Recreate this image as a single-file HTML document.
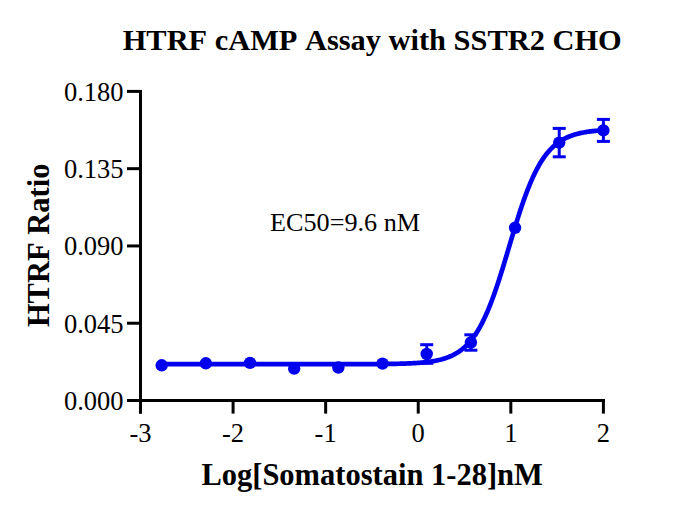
<!DOCTYPE html>
<html><head><meta charset="utf-8"><style>
html,body{margin:0;padding:0;background:#fff;width:678px;height:513px;overflow:hidden}
svg{display:block}
text{font-family:"Liberation Serif",serif;fill:#000;font-kerning:none}
</style></head><body>
<svg width="678" height="513" viewBox="0 0 678 513">
<rect width="678" height="513" fill="#fff"/>
<text x="372.2" y="49.9" text-anchor="middle" font-weight="bold" font-size="30.4">HTRF cAMP Assay with SSTR2 CHO</text>
<g stroke="#000" stroke-width="3" fill="none" stroke-linecap="butt">
<line x1="140.5" y1="90" x2="140.5" y2="413.6"/>
<line x1="127" y1="400.5" x2="605" y2="400.5"/>
<line x1="127" y1="400.50" x2="142" y2="400.50"/>
<line x1="127" y1="323.23" x2="142" y2="323.23"/>
<line x1="127" y1="245.95" x2="142" y2="245.95"/>
<line x1="127" y1="168.67" x2="142" y2="168.67"/>
<line x1="127" y1="91.40" x2="142" y2="91.40"/>
<line x1="140.50" y1="399" x2="140.50" y2="413.6"/>
<line x1="233.08" y1="399" x2="233.08" y2="413.6"/>
<line x1="325.66" y1="399" x2="325.66" y2="413.6"/>
<line x1="418.24" y1="399" x2="418.24" y2="413.6"/>
<line x1="510.82" y1="399" x2="510.82" y2="413.6"/>
<line x1="603.40" y1="399" x2="603.40" y2="413.6"/>
</g>
<g font-size="26.5">
<text x="123.5" y="409.80" text-anchor="end">0.000</text>
<text x="123.5" y="332.53" text-anchor="end">0.045</text>
<text x="123.5" y="255.25" text-anchor="end">0.090</text>
<text x="123.5" y="177.97" text-anchor="end">0.135</text>
<text x="123.5" y="100.70" text-anchor="end">0.180</text>
<text x="140.50" y="441.9" text-anchor="middle">-3</text>
<text x="233.08" y="441.9" text-anchor="middle">-2</text>
<text x="325.66" y="441.9" text-anchor="middle">-1</text>
<text x="418.24" y="441.9" text-anchor="middle">0</text>
<text x="510.82" y="441.9" text-anchor="middle">1</text>
<text x="603.40" y="441.9" text-anchor="middle">2</text>
<text x="270" y="230.9" font-size="26.2">EC50=9.6 nM</text>
</g>
<text x="372.1" y="484.8" text-anchor="middle" font-weight="bold" font-size="30.5">Log[Somatostain 1-28]nM</text>
<text transform="translate(49.3,245.35) rotate(-90)" x="0" y="0" text-anchor="middle" font-weight="bold" font-size="30.5">HTRF Ratio</text>
<polyline points="161.68,364.18 162.79,364.18 163.89,364.18 164.99,364.18 166.10,364.18 167.20,364.18 168.31,364.18 169.41,364.18 170.52,364.18 171.62,364.18 172.72,364.18 173.83,364.18 174.93,364.18 176.04,364.18 177.14,364.18 178.25,364.18 179.35,364.18 180.45,364.18 181.56,364.18 182.66,364.18 183.77,364.18 184.87,364.18 185.98,364.18 187.08,364.18 188.18,364.18 189.29,364.18 190.39,364.18 191.50,364.18 192.60,364.18 193.71,364.18 194.81,364.18 195.91,364.18 197.02,364.18 198.12,364.18 199.23,364.18 200.33,364.18 201.44,364.18 202.54,364.18 203.64,364.18 204.75,364.18 205.85,364.18 206.96,364.18 208.06,364.18 209.17,364.18 210.27,364.18 211.37,364.18 212.48,364.18 213.58,364.18 214.69,364.18 215.79,364.18 216.90,364.18 218.00,364.18 219.10,364.18 220.21,364.18 221.31,364.18 222.42,364.18 223.52,364.18 224.63,364.18 225.73,364.18 226.83,364.18 227.94,364.18 229.04,364.18 230.15,364.18 231.25,364.18 232.36,364.18 233.46,364.18 234.56,364.18 235.67,364.18 236.77,364.18 237.88,364.18 238.98,364.18 240.09,364.18 241.19,364.18 242.29,364.18 243.40,364.18 244.50,364.18 245.61,364.18 246.71,364.18 247.82,364.18 248.92,364.18 250.02,364.18 251.13,364.18 252.23,364.18 253.34,364.18 254.44,364.18 255.55,364.18 256.65,364.18 257.75,364.18 258.86,364.18 259.96,364.18 261.07,364.18 262.17,364.18 263.28,364.18 264.38,364.18 265.49,364.18 266.59,364.18 267.69,364.18 268.80,364.18 269.90,364.18 271.01,364.18 272.11,364.18 273.22,364.18 274.32,364.18 275.42,364.18 276.53,364.18 277.63,364.18 278.74,364.18 279.84,364.18 280.95,364.18 282.05,364.18 283.15,364.18 284.26,364.18 285.36,364.18 286.47,364.18 287.57,364.18 288.68,364.18 289.78,364.18 290.88,364.18 291.99,364.18 293.09,364.18 294.20,364.18 295.30,364.18 296.41,364.18 297.51,364.18 298.61,364.18 299.72,364.18 300.82,364.18 301.93,364.18 303.03,364.18 304.14,364.18 305.24,364.18 306.34,364.18 307.45,364.18 308.55,364.18 309.66,364.18 310.76,364.18 311.87,364.18 312.97,364.18 314.07,364.18 315.18,364.18 316.28,364.18 317.39,364.18 318.49,364.18 319.60,364.18 320.70,364.18 321.80,364.18 322.91,364.18 324.01,364.17 325.12,364.17 326.22,364.17 327.33,364.17 328.43,364.17 329.53,364.17 330.64,364.17 331.74,364.17 332.85,364.17 333.95,364.17 335.06,364.17 336.16,364.17 337.26,364.17 338.37,364.17 339.47,364.17 340.58,364.17 341.68,364.16 342.79,364.16 343.89,364.16 344.99,364.16 346.10,364.16 347.20,364.16 348.31,364.16 349.41,364.16 350.52,364.15 351.62,364.15 352.72,364.15 353.83,364.15 354.93,364.15 356.04,364.14 357.14,364.14 358.25,364.14 359.35,364.14 360.45,364.13 361.56,364.13 362.66,364.13 363.77,364.12 364.87,364.12 365.98,364.12 367.08,364.11 368.18,364.11 369.29,364.10 370.39,364.10 371.50,364.09 372.60,364.09 373.71,364.08 374.81,364.07 375.91,364.07 377.02,364.06 378.12,364.05 379.23,364.04 380.33,364.03 381.44,364.02 382.54,364.01 383.64,364.00 384.75,363.99 385.85,363.98 386.96,363.96 388.06,363.95 389.17,363.94 390.27,363.92 391.37,363.90 392.48,363.88 393.58,363.87 394.69,363.84 395.79,363.82 396.90,363.80 398.00,363.77 399.11,363.75 400.21,363.72 401.31,363.69 402.42,363.66 403.52,363.62 404.63,363.59 405.73,363.55 406.84,363.51 407.94,363.46 409.04,363.42 410.15,363.37 411.25,363.32 412.36,363.26 413.46,363.20 414.57,363.14 415.67,363.07 416.77,363.00 417.88,362.92 418.98,362.84 420.09,362.75 421.19,362.66 422.30,362.56 423.40,362.45 424.50,362.34 425.61,362.22 426.71,362.10 427.82,361.96 428.92,361.82 430.03,361.67 431.13,361.50 432.23,361.33 433.34,361.15 434.44,360.95 435.55,360.74 436.65,360.52 437.76,360.29 438.86,360.04 439.96,359.78 441.07,359.49 442.17,359.20 443.28,358.88 444.38,358.54 445.49,358.18 446.59,357.80 447.69,357.40 448.80,356.97 449.90,356.51 451.01,356.03 452.11,355.52 453.22,354.98 454.32,354.40 455.42,353.79 456.53,353.15 457.63,352.46 458.74,351.74 459.84,350.97 460.95,350.16 462.05,349.31 463.15,348.40 464.26,347.45 465.36,346.44 466.47,345.37 467.57,344.25 468.68,343.07 469.78,341.82 470.88,340.51 471.99,339.13 473.09,337.68 474.20,336.16 475.30,334.56 476.41,332.89 477.51,331.13 478.61,329.30 479.72,327.38 480.82,325.38 481.93,323.29 483.03,321.11 484.14,318.84 485.24,316.49 486.34,314.04 487.45,311.50 488.55,308.88 489.66,306.16 490.76,303.36 491.87,300.47 492.97,297.49 494.07,294.43 495.18,291.29 496.28,288.08 497.39,284.79 498.49,281.44 499.60,278.02 500.70,274.55 501.80,271.02 502.91,267.45 504.01,263.83 505.12,260.18 506.22,256.51 507.33,252.82 508.43,249.11 509.53,245.40 510.64,241.69 511.74,237.99 512.85,234.31 513.95,230.65 515.06,227.03 516.16,223.44 517.26,219.90 518.37,216.41 519.47,212.97 520.58,209.60 521.68,206.29 522.79,203.05 523.89,199.89 524.99,196.81 526.10,193.81 527.20,190.89 528.31,188.06 529.41,185.31 530.52,182.66 531.62,180.10 532.72,177.62 533.83,175.24 534.93,172.94 536.04,170.74 537.14,168.62 538.25,166.59 539.35,164.65 540.46,162.78 541.56,161.01 542.66,159.31 543.77,157.69 544.87,156.14 545.98,154.67 547.08,153.27 548.19,151.94 549.29,150.67 550.39,149.47 551.50,148.33 552.60,147.25 553.71,146.22 554.81,145.25 555.92,144.33 557.02,143.46 558.12,142.63 559.23,141.85 560.33,141.12 561.44,140.42 562.54,139.76 563.65,139.14 564.75,138.56 565.85,138.01 566.96,137.48 568.06,136.99 569.17,136.53 570.27,136.09 571.38,135.68 572.48,135.29 573.58,134.93 574.69,134.58 575.79,134.26 576.90,133.96 578.00,133.67 579.11,133.40 580.21,133.15 581.31,132.91 582.42,132.68 583.52,132.47 584.63,132.27 585.73,132.08 586.84,131.91 587.94,131.74 589.04,131.59 590.15,131.44 591.25,131.30 592.36,131.18 593.46,131.05 594.57,130.94 595.67,130.83 596.77,130.73 597.88,130.64 598.98,130.55 600.09,130.47 601.19,130.39 602.30,130.31 603.40,130.24" fill="none" stroke="#0000ee" stroke-width="4.7" stroke-linejoin="round"/>
<circle cx="161.68" cy="365.30" r="6.2" fill="#0000ee"/>
<circle cx="205.85" cy="363.30" r="6.2" fill="#0000ee"/>
<circle cx="250.02" cy="362.90" r="6.2" fill="#0000ee"/>
<circle cx="294.20" cy="368.60" r="6.2" fill="#0000ee"/>
<circle cx="338.37" cy="367.50" r="6.2" fill="#0000ee"/>
<circle cx="382.54" cy="363.60" r="6.2" fill="#0000ee"/>
<line x1="426.71" y1="344.70" x2="426.71" y2="363.30" stroke="#0000ee" stroke-width="3"/>
<line x1="420.21" y1="344.70" x2="433.21" y2="344.70" stroke="#0000ee" stroke-width="3"/>
<line x1="420.21" y1="363.30" x2="433.21" y2="363.30" stroke="#0000ee" stroke-width="3"/>
<circle cx="426.71" cy="354.00" r="6.2" fill="#0000ee"/>
<line x1="470.88" y1="334.80" x2="470.88" y2="350.20" stroke="#0000ee" stroke-width="3"/>
<line x1="464.38" y1="334.80" x2="477.38" y2="334.80" stroke="#0000ee" stroke-width="3"/>
<line x1="464.38" y1="350.20" x2="477.38" y2="350.20" stroke="#0000ee" stroke-width="3"/>
<circle cx="470.88" cy="342.50" r="6.2" fill="#0000ee"/>
<circle cx="515.06" cy="227.80" r="6.2" fill="#0000ee"/>
<line x1="559.23" y1="128.40" x2="559.23" y2="156.80" stroke="#0000ee" stroke-width="3"/>
<line x1="552.73" y1="128.40" x2="565.73" y2="128.40" stroke="#0000ee" stroke-width="3"/>
<line x1="552.73" y1="156.80" x2="565.73" y2="156.80" stroke="#0000ee" stroke-width="3"/>
<circle cx="559.23" cy="142.60" r="6.2" fill="#0000ee"/>
<line x1="603.40" y1="119.40" x2="603.40" y2="141.40" stroke="#0000ee" stroke-width="3"/>
<line x1="596.90" y1="119.40" x2="609.90" y2="119.40" stroke="#0000ee" stroke-width="3"/>
<line x1="596.90" y1="141.40" x2="609.90" y2="141.40" stroke="#0000ee" stroke-width="3"/>
<circle cx="603.40" cy="130.40" r="6.2" fill="#0000ee"/>
</svg>
</body></html>
